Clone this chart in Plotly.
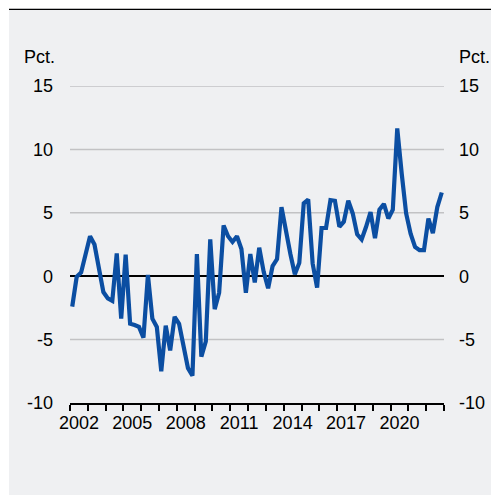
import plotly.graph_objects as go

# Quarterly observations, 2002Q1 .. 2022Q4 (pct.)
years = list(range(2002, 2023))
quarters = [1, 2, 3, 4]
values = [
    -2.4, -0.05, 0.3, 1.8,      # 2002
    3.15, 2.5, 0.6, -1.25,      # 2003
    -1.75, -1.95, 1.8, -3.35,   # 2004
    1.7, -3.75, -3.85, -4.0,    # 2005
    -4.85, 0.1, -3.35, -4.0,    # 2006
    -7.5, -3.9, -5.85, -3.2,    # 2007
    -3.75, -5.6, -7.25, -7.85,  # 2008
    1.75, -6.35, -5.15, 2.9,    # 2009
    -2.6, -1.3, 4.0, 3.15,      # 2010
    2.7, 3.15, 2.15, -1.3,      # 2011
    1.75, -0.5, 2.25, 0.35,     # 2012
    -0.95, 0.8, 1.35, 5.45,     # 2013
    3.35, 1.75, 0.15, 1.05,     # 2014
    5.75, 6.05, 1.0, -0.9,      # 2015
    3.8, 3.8, 6.0, 5.95,        # 2016
    3.9, 4.3, 5.95, 4.95,       # 2017
    3.3, 2.9, 3.9, 5.05,        # 2018
    3.0, 5.25, 5.7, 4.55,       # 2019
    5.25, 11.65, 8.1, 4.95,     # 2020
    3.35, 2.3, 2.05, 2.05,      # 2021
    4.55, 3.4, 5.45, 6.6,       # 2022
]
y_ticks = [15, 10, 5, 0, -5, -10]
x_label_years = [2002, 2005, 2008, 2011, 2014, 2017, 2020]
unit_label = "Pct."

x_vals = [y + (q - 0.5) / 4 for y in years for q in quarters]

# page has an 8px body margin, so figure coords = page coords - 8
W, H = 499, 495
ML, MT = 62, 78
PW, PH = 374, 317
MR, MB = W - ML - PW, H - MT - PH
FONT = "Liberation Sans, Arial, sans-serif"
BLUE = "#0b4ea2"
BG = "#eff0f2"
GRID = "#c2c2c4"

fig = go.Figure()
fig.add_trace(go.Scatter(x=x_vals, y=values, mode="lines",
                         line=dict(color=BLUE, width=4.2),
                         showlegend=False, hoverinfo="skip"))
# invisible companion trace so the right-hand axis is drawn
fig.add_trace(go.Scatter(x=x_vals, y=values, mode="lines", yaxis="y2",
                         line=dict(color="rgba(0,0,0,0)", width=0),
                         showlegend=False, hoverinfo="skip"))


def px_x(px):
    return (px - ML) / PW


def px_y(py):
    return (H - MB - py) / PH


# horizontal grid lines at the (non-zero, non-bottom) tick values
for v in y_ticks:
    if v in (0, min(y_ticks)):
        continue
    fig.add_shape(type="line", xref="paper", yref="y", layer="below",
                  x0=0, x1=1, y0=v, y1=v,
                  line=dict(color=GRID, width=1.5))

# thin white strips at left and top, and the dark rule on top of the panel
fig.add_shape(type="rect", xref="paper", yref="paper", layer="above",
              x0=px_x(-5), x1=px_x(1), y0=px_y(H + 5), y1=px_y(-5),
              fillcolor="#ffffff", line=dict(width=0))
fig.add_shape(type="rect", xref="paper", yref="paper", layer="above",
              x0=px_x(-5), x1=px_x(W + 5), y0=px_y(0.7), y1=px_y(-5),
              fillcolor="#ffffff", line=dict(width=0))
fig.add_shape(type="line", xref="paper", yref="paper", layer="above",
              x0=px_x(1), x1=px_x(W + 5),
              y0=px_y(1.3), y1=px_y(1.3),
              line=dict(color="#000000", width=1.3))

axis_font = dict(family=FONT, size=18, color="#000000")
fig.update_layout(
    width=W, height=H,
    margin=dict(l=ML, r=MR, t=MT, b=MB, pad=0),
    paper_bgcolor=BG, plot_bgcolor=BG,
    font=axis_font,
    xaxis=dict(range=[years[0], years[-1] + 1],
               tickvals=[y + 0.5 for y in x_label_years],
               ticktext=[str(y) for y in x_label_years],
               ticks="", showgrid=False, zeroline=False,
               showline=True, linecolor="#000000", linewidth=1.5,
               tickfont=axis_font, ticklabelstandoff=3,
               minor=dict(ticks="outside", tick0=years[0], dtick=1,
                          ticklen=6, tickcolor="#000000", tickwidth=1.5,
                          showgrid=False)),
    yaxis=dict(range=[-10, 15], tickvals=y_ticks,
               ticktext=[str(v) for v in y_ticks],
               showgrid=False,
               zeroline=True, zerolinecolor="#000000", zerolinewidth=1.5,
               showline=False, ticks="", tickfont=axis_font,
               ticklabelstandoff=16),
    yaxis2=dict(range=[-10, 15], tickvals=y_ticks,
                ticktext=[str(v) for v in y_ticks],
                overlaying="y", side="right",
                showgrid=False, zeroline=False, showline=False, ticks="",
                tickfont=axis_font, ticklabelstandoff=14),
    annotations=[
        dict(text=unit_label, xref="paper", yref="paper",
             x=px_x(49), y=px_y(49),
             xanchor="right", yanchor="middle", showarrow=False,
             font=axis_font),
        dict(text=unit_label, xref="paper", yref="paper",
             x=px_x(449), y=px_y(49),
             xanchor="left", yanchor="middle", showarrow=False,
             font=axis_font),
    ],
)

fig.write_html("out.html")
